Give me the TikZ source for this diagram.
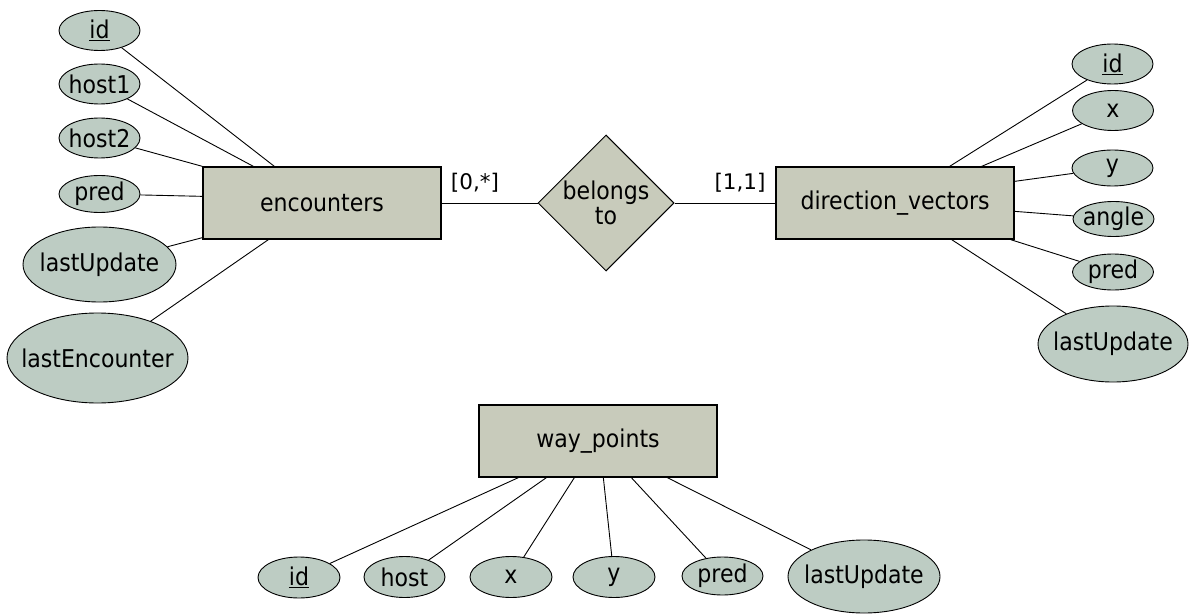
\documentclass[tikz,border=0pt]{standalone}
\usepackage{fontspec}
\setmainfont{DejaVu Sans}
\newfontfamily\cond{DejaVu Sans Condensed}
\usetikzlibrary{shapes.geometric}
\definecolor{entfill}{RGB}{200,203,187}
\definecolor{attfill}{RGB}{189,204,195}
\newcommand\zw[1]{\makebox[0pt]{#1}}
\tikzset{
  entity/.style={draw=black, line width=1.3pt, fill=entfill, rectangle, minimum width=238pt, minimum height=72pt, inner sep=0pt, font=\cond\fontsize{24.5}{28}\selectfont},
  attr/.style={draw=black, line width=0.9pt, fill=attfill, ellipse, inner sep=0pt, font=\cond\fontsize{24.5}{28}\selectfont},
  small/.style={attr, minimum width=81pt, minimum height=40pt},
  big/.style={attr, minimum width=152pt, minimum height=75pt},
  rel/.style={draw=black, line width=1pt, fill=entfill, diamond, aspect=1, minimum width=136pt, minimum height=136pt, inner sep=0pt, align=center, font=\cond\fontsize{24.5}{25}\selectfont},
  card/.style={inner sep=0pt, font=\fontsize{21.5}{26}\selectfont},
  link/.style={draw=black, line width=0.9pt}
}
\begin{document}
\begin{tikzpicture}[x=1pt,y=-1pt]
\useasboundingbox (0,0) rectangle (1189,615);
% entities
\node[entity] (enc) at (322,203) {encounters};
\node[entity] (dir) at (895,203) {direction\_vectors};
\node[entity] (way) at (598,441) {way\_points};
\node[rel] (bel) at (606,203) {\zw{belongs}\\\zw{to}};
\node[card] (c1) at (475,183) {[0,*]};
\node[card] (c2) at (740,183) {[1,1]};
\draw[link] (enc.east) -- (bel.west);
\draw[link] (bel.east) -- (dir.west);
% encounters attributes
\node[small] (eid) at (99.5,30.5) {\zw{\underline{id}}};
\node[small] (eh1) at (99.5,84) {\zw{host1}};
\node[small] (eh2) at (99.5,138) {\zw{host2}};
\node[small, minimum height=37pt] (epr) at (99.5,194) {\zw{pred}};
\node[big, minimum width=153pt] (elu) at (99.5,264.5) {\zw{lastUpdate}};
\node[attr, minimum width=181pt, minimum height=90pt] (ele) at (97.5,358) {\zw{lastEncounter}};
\draw[link] (eid) -- ([xshift=72pt]enc.north west);
\draw[link] (eh1) -- ([xshift=51pt]enc.north west);
\draw[link] (eh2) -- (enc.north west);
\draw[link] (epr) -- ([yshift=-30pt]enc.north west);
\draw[link] (elu) -- ([yshift=2pt]enc.south west);
\draw[link] (ele) -- ([xshift=66pt]enc.south west);
% direction_vectors attributes
\node[small] (did) at (1112.5,64) {\zw{\underline{id}}};
\node[small] (dx) at (1113,110.5) {\zw{x}};
\node[small, minimum height=36pt] (dy) at (1112.5,168) {\zw{y}};
\node[small, minimum height=35pt] (dan) at (1113.5,219) {\zw{angle}};
\node[small, minimum height=36pt] (dpr) at (1113,272) {\zw{pred}};
\node[big, minimum width=150pt, minimum height=76pt] (dlu) at (1113,344) {\zw{lastUpdate}};
\draw[link] (did) -- ([xshift=-65pt]dir.north east);
\draw[link] (dx) -- ([xshift=-33pt]dir.north east);
\draw[link] (dy) -- ([yshift=-15pt]dir.north east);
\draw[link] (dan) -- ([yshift=-45pt]dir.north east);
\draw[link] (dpr) -- ([xshift=-4pt]dir.south east);
\draw[link] (dlu) -- ([xshift=-63pt]dir.south east);
% way_points attributes
\node[small, minimum width=82pt, minimum height=41pt] (wid) at (299,577.5) {\zw{\underline{id}}};
\node[small, minimum width=81pt, minimum height=41pt] (who) at (404.5,577) {\zw{host}};
\node[small, minimum width=82pt, minimum height=41pt] (wx) at (511,577) {\zw{x}};
\node[small, minimum width=82pt, minimum height=41pt] (wy) at (614,577) {\zw{y}};
\node[small, minimum width=81pt, minimum height=38pt] (wpr) at (722.5,576) {\zw{pred}};
\node[big, minimum width=152pt, minimum height=73pt] (wlu) at (864,576.5) {\zw{lastUpdate}};
\draw[link] (wid) -- ([xshift=40pt]way.south west);
\draw[link] (who) -- ([xshift=68pt]way.south west);
\draw[link] (wx) -- ([xshift=96pt]way.south west);
\draw[link] (wy) -- ([xshift=125pt]way.south west);
\draw[link] (wpr) -- ([xshift=153pt]way.south west);
\draw[link] (wlu) -- ([xshift=189pt]way.south west);
\end{tikzpicture}
\end{document}
